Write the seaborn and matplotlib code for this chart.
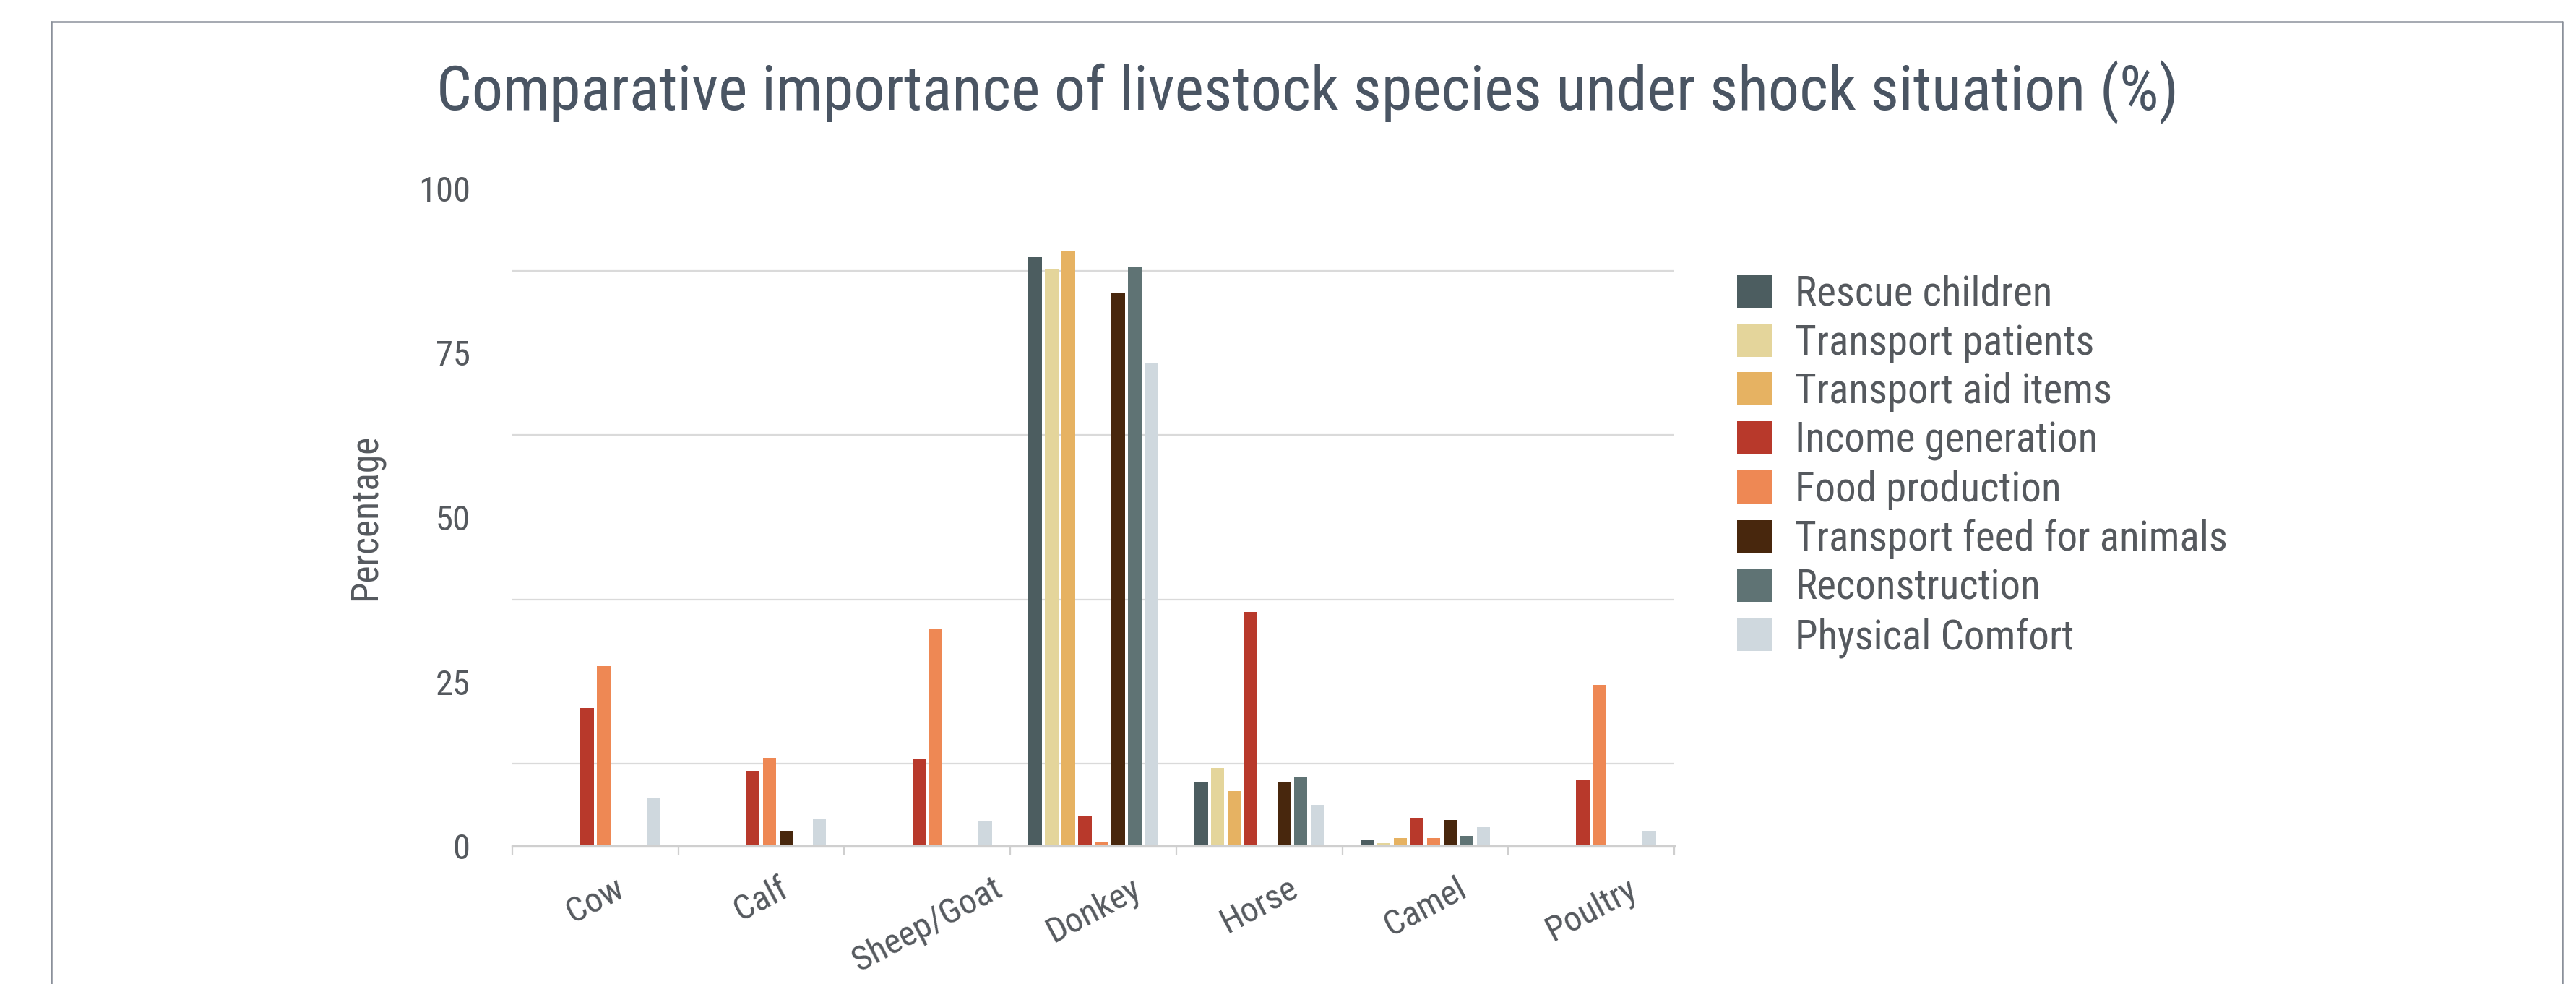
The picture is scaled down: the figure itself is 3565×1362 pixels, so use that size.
import matplotlib
matplotlib.use("Agg")
import matplotlib.pyplot as plt
from matplotlib import font_manager
from matplotlib.lines import Line2D
import seaborn as sns
import pandas as pd

# ---------------- data ----------------
species = ["Cow", "Calf", "Sheep/Goat", "Donkey", "Horse", "Camel", "Poultry"]
uses = ["Rescue children", "Transport patients", "Transport aid items",
        "Income generation", "Food production", "Transport feed for animals",
        "Reconstruction", "Physical Comfort"]

rescue_children = [0, 0, 0, 89.6, 9.7, 0.9, 0]
transport_patients = [0, 0, 0, 87.8, 11.9, 0.4, 0]
transport_aid_items = [0, 0, 0, 90.5, 8.4, 1.2, 0]
income_generation = [21.0, 11.4, 13.3, 4.5, 35.6, 4.3, 10.0]
food_production = [27.4, 13.4, 33.0, 0.7, 0, 1.2, 24.5]
transport_feed = [0, 2.3, 0, 84.1, 9.8, 4.0, 0]
reconstruction = [0, 0, 0, 88.1, 10.5, 1.5, 0]
physical_comfort = [7.4, 4.1, 3.8, 73.4, 6.3, 3.0, 2.3]

series = [rescue_children, transport_patients, transport_aid_items,
          income_generation, food_production, transport_feed,
          reconstruction, physical_comfort]

colors = ["#4c5d60", "#e4d59b", "#e6b262", "#b8392b",
          "#ee8854", "#48270d", "#5f7374", "#cfd8de"]

y_tick_values = [0, 25, 50, 75, 100]
grid_values = [12.5, 37.5, 62.5, 87.5]

title = "Comparative importance of livestock species under shock situation (%)"
y_label = "Percentage"

# ---------------- fonts ----------------
available = {f.name for f in font_manager.fontManager.ttflist}
family = "DejaVu Sans"
for cand in ["Roboto Condensed", "Liberation Sans Narrow", "DejaVu Sans Condensed",
             "Open Sans Condensed", "Roboto", "Liberation Sans"]:
    if cand in available:
        family = cand
        break

sns.set_theme(style="white")
plt.rcParams["font.family"] = [family, "DejaVu Sans"]

rows = []
for u, vals in zip(uses, series):
    for s, v in zip(species, vals):
        rows.append({"species": s, "use": u, "value": v})
df = pd.DataFrame(rows)

W, H = 3566, 1362
fig = plt.figure(figsize=(W / 200, H / 200), dpi=200)
fig.patch.set_facecolor("white")
ax = fig.add_axes([709 / W, 1 - 1171 / H, (2317 - 709) / W, (1171 - 261) / H])

sns.barplot(data=df, x="species", y="value", hue="use", order=species,
            hue_order=uses, palette=colors, width=0.8, gap=0.2,
            saturation=1, linewidth=0, ax=ax)

ax.set_xlim(-0.5, len(species) - 0.5)
ax.set_ylim(0, 100)

# y axis
ax.set_yticks(y_tick_values)
ax.set_yticklabels([str(v) for v in y_tick_values])
ax.set_yticks(grid_values, minor=True)
ax.grid(False)
ax.yaxis.grid(True, which="minor", color="#dadada", linewidth=0.8)
ax.tick_params(axis="y", which="both", length=0, pad=21, labelsize=17.5,
               labelcolor="#55595e")
ax.set_ylabel(y_label, fontsize=18.5, color="#55595e", labelpad=17)

# x axis
ax.set_xticks(range(len(species)))
ax.set_xticklabels(species, rotation=28, ha="center", va="top")
ax.set_xticks([i - 0.5 for i in range(len(species) + 1)], minor=True)
ax.tick_params(axis="x", which="major", length=0, pad=13, labelsize=17.5,
               labelcolor="#55595e")
ax.tick_params(axis="x", which="minor", length=4.3, width=0.8, color="#cfcfcf",
               bottom=True)
ax.set_xlabel("")

for side in ["top", "right", "left"]:
    ax.spines[side].set_visible(False)
ax.spines["bottom"].set_color("#cfcfcf")
ax.spines["bottom"].set_linewidth(1.2)
ax.set_axisbelow(True)

# legend
handles, labels = ax.get_legend_handles_labels()
ax.legend(handles, labels, loc="upper left",
          bbox_to_anchor=(2404 / W, 1 - 380 / H), bbox_transform=fig.transFigure,
          frameon=False, borderpad=0, borderaxespad=0, fontsize=20.5,
          handlelength=0.86, handleheight=0.86, handletextpad=0.55,
          labelspacing=0.22, labelcolor="#55595e")

# title
fig.text(1810 / W, 1 - 128 / H, title, ha="center", va="center",
         fontsize=31, color="#4a5563")

# frame around the graphic (open at the bottom)
fc = "#8a909a"
top = 1 - 30 / H
fig.add_artist(Line2D([71 / W, 71 / W], [0, top], transform=fig.transFigure,
                      color=fc, linewidth=0.9))
fig.add_artist(Line2D([71 / W, 3546 / W], [top, top],
                      transform=fig.transFigure, color=fc, linewidth=0.9))
fig.add_artist(Line2D([3546 / W, 3546 / W], [0, top], transform=fig.transFigure,
                      color=fc, linewidth=0.9))

fig.savefig("out.png", dpi=200, facecolor="white")
